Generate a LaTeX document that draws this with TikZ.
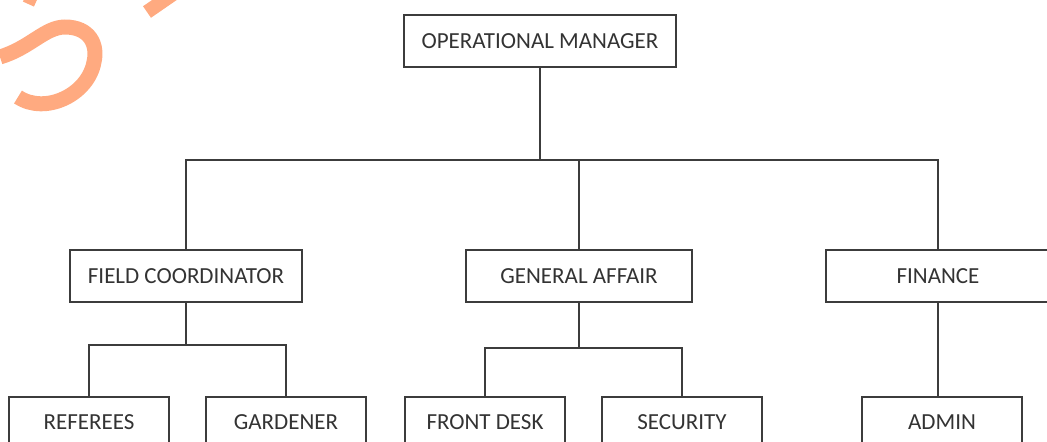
\documentclass[tikz,border=0pt]{standalone}
\usepackage{fontspec}
\setmainfont{Carlito}
\usepackage{xcolor}
\usetikzlibrary{calc}
\definecolor{boxline}{HTML}{3C3C3C}
\definecolor{wmark}{HTML}{FFAA80}

\begin{document}
\begin{tikzpicture}[x=0.5pt, y=-0.5pt]
            \tikzset{post/.style={draw=boxline, line width=1pt, fill=white, inner sep=0pt,
                    minimum height=26pt, font=\fontsize{11.5}{13}\selectfont, text=black!80}}
            \tikzset{link/.style={boxline, line width=1pt}}
            \useasboundingbox (0, 0) rectangle (1047, 441);
            \clip (0, 0) rectangle (1047, 441);
            % watermark remnant
            \draw[wmark, line width=7.5pt] (0, 57) .. controls (30, 48) and (45, 27) .. (65, 27)
                .. controls (90, 27) and (98, 45) .. (94, 62)
                .. controls (88, 95) and (45, 115) .. (18, 97);
            \draw[wmark, line width=7pt] (147, 12) -- (176, -8);
            \draw[wmark, line width=5pt] (25, -3) -- (36, 2);
            % boxes
            \node[post, minimum width=136pt] (om) at (540, 41) {OPERATIONAL MANAGER};
            \node[post, minimum width=116pt] (fc) at (186, 276) {FIELD COORDINATOR};
            \node[post, minimum width=113pt] (ga) at (579, 276) {GENERAL AFFAIR};
            \node[post, minimum width=112pt] (fin) at (938, 276) {FINANCE};
            \foreach \name/\x/\txt in {ref/89/REFEREES, gar/286/GARDENER, fd/485/FRONT DESK,
                    sec/682/SECURITY, adm/942/ADMIN} {
                \node[post, minimum width=80pt, minimum height=25pt] (\name) at (\x, 422) {\txt};
            }
            % connectors
            \coordinate (b0) at (0, 160);
            \coordinate (b1) at (0, 345);
            \coordinate (b2) at (0, 348);
            \draw[link] (om.south) -- (om.south |- b0);
            \draw[link] (fc.north) |- (ga.north |- b0) -- (ga.north);
            \draw[link] (ga.north |- b0) -| (fin.north);
            \draw[link] (fc.south) -- (fc.south |- b1);
            \draw[link] (ref.north) |- (gar.north |- b1) -- (gar.north);
            \draw[link] (ga.south) -- (ga.south |- b2);
            \draw[link] (fd.north) |- (sec.north |- b2) -- (sec.north);
            \draw[link] (fin.south) -- (adm.north -| fin.south);
\end{tikzpicture}
\end{document}
